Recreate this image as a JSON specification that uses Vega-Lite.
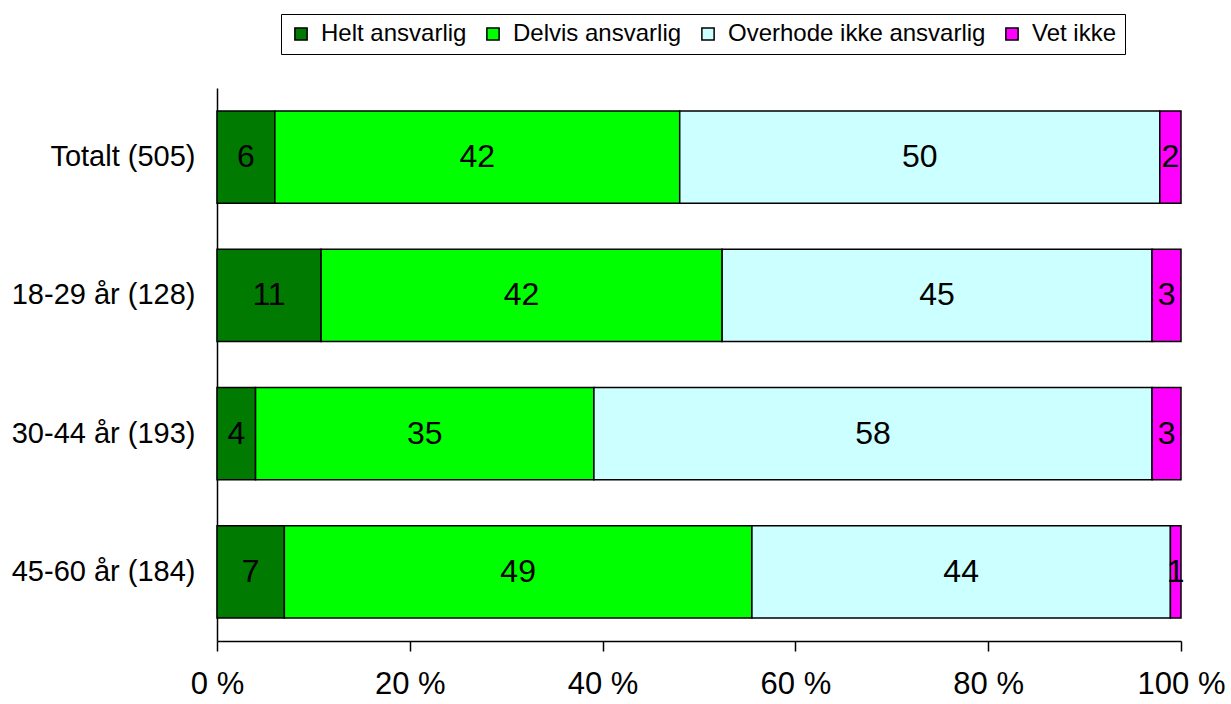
{
  "$schema": "https://vega.github.io/schema/vega-lite/v6.json",
  "width": 964,
  "height": 553,
  "autosize": {"type": "none"},
  "padding": {"left": 217, "top": 88, "right": 50, "bottom": 63},
  "background": "white",
  "config": {"view": {"stroke": null}, "font": "Liberation Sans"},
  "data": {"values": [
    {"group": "Totalt (505)", "cat": "Helt ansvarlig", "k": 1, "v": 6.0},
    {"group": "Totalt (505)", "cat": "Delvis ansvarlig", "k": 2, "v": 42.0},
    {"group": "Totalt (505)", "cat": "Overhode ikke ansvarlig", "k": 3, "v": 49.8},
    {"group": "Totalt (505)", "cat": "Vet ikke", "k": 4, "v": 2.2},
    {"group": "18-29 år (128)", "cat": "Helt ansvarlig", "k": 1, "v": 10.8},
    {"group": "18-29 år (128)", "cat": "Delvis ansvarlig", "k": 2, "v": 41.6},
    {"group": "18-29 år (128)", "cat": "Overhode ikke ansvarlig", "k": 3, "v": 44.6},
    {"group": "18-29 år (128)", "cat": "Vet ikke", "k": 4, "v": 3.0},
    {"group": "30-44 år (193)", "cat": "Helt ansvarlig", "k": 1, "v": 4.0},
    {"group": "30-44 år (193)", "cat": "Delvis ansvarlig", "k": 2, "v": 35.1},
    {"group": "30-44 år (193)", "cat": "Overhode ikke ansvarlig", "k": 3, "v": 57.9},
    {"group": "30-44 år (193)", "cat": "Vet ikke", "k": 4, "v": 3.0},
    {"group": "45-60 år (184)", "cat": "Helt ansvarlig", "k": 1, "v": 7.0},
    {"group": "45-60 år (184)", "cat": "Delvis ansvarlig", "k": 2, "v": 48.6},
    {"group": "45-60 år (184)", "cat": "Overhode ikke ansvarlig", "k": 3, "v": 43.5},
    {"group": "45-60 år (184)", "cat": "Vet ikke", "k": 4, "v": 1.1}
  ]},
  "transform": [
    {"stack": "v", "groupby": ["group"], "sort": [{"field": "k", "order": "ascending"}], "offset": "normalize", "as": ["x0", "x1"]},
    {"calculate": "(datum.x0 + datum.x1) / 2", "as": "xm"}
  ],
  "encoding": {
    "y": {
      "field": "group", "type": "nominal",
      "sort": ["Totalt (505)", "18-29 år (128)", "30-44 år (193)", "45-60 år (184)"],
      "scale": {"paddingInner": 0.333, "paddingOuter": 0.167},
      "axis": {"title": null, "ticks": false, "labelFontSize": 29, "labelColor": "black", "labelPadding": 22, "labelLimit": 400, "domainColor": "black", "domainWidth": 1.5}
    }
  },
  "layer": [
    {
      "mark": {"type": "bar", "stroke": "black", "strokeWidth": 1.5},
      "encoding": {
        "x": {"field": "x0", "type": "quantitative",
          "scale": {"domain": [0, 1], "nice": false},
          "axis": {"title": null, "format": ".0%", "labelExpr": "replace(datum.label, '%', ' %')", "values": [0, 0.2, 0.4, 0.6, 0.8, 1], "grid": false, "tickSize": 10, "tickColor": "black", "tickWidth": 1.5, "domainColor": "black", "domainWidth": 1.5, "labelFontSize": 31, "labelColor": "black", "labelPadding": 18, "labelFlush": false}},
        "x2": {"field": "x1"},
        "color": {
          "field": "cat", "type": "nominal",
          "scale": {"domain": ["Helt ansvarlig", "Delvis ansvarlig", "Overhode ikke ansvarlig", "Vet ikke"], "range": ["#007a00", "#00ff00", "#ccffff", "#ff00ff"]},
          "legend": {"title": null, "orient": "none", "legendX": 64, "legendY": -74, "direction": "horizontal", "columns": 4, "symbolType": "square", "symbolSize": 150, "symbolStrokeColor": "black", "symbolStrokeWidth": 1.5, "labelFontSize": 24, "labelLimit": 500, "labelColor": "black", "columnPadding": 14, "labelOffset": 8, "padding": 8, "strokeColor": "black", "fillColor": "white"}
        }
      }
    },
    {
      "mark": {"type": "text", "fontSize": 32, "color": "black", "align": "center", "baseline": "middle"},
      "encoding": {
        "x": {"field": "xm", "type": "quantitative"},
        "text": {"field": "v", "type": "quantitative", "format": ".0f"}
      }
    }
  ]
}
